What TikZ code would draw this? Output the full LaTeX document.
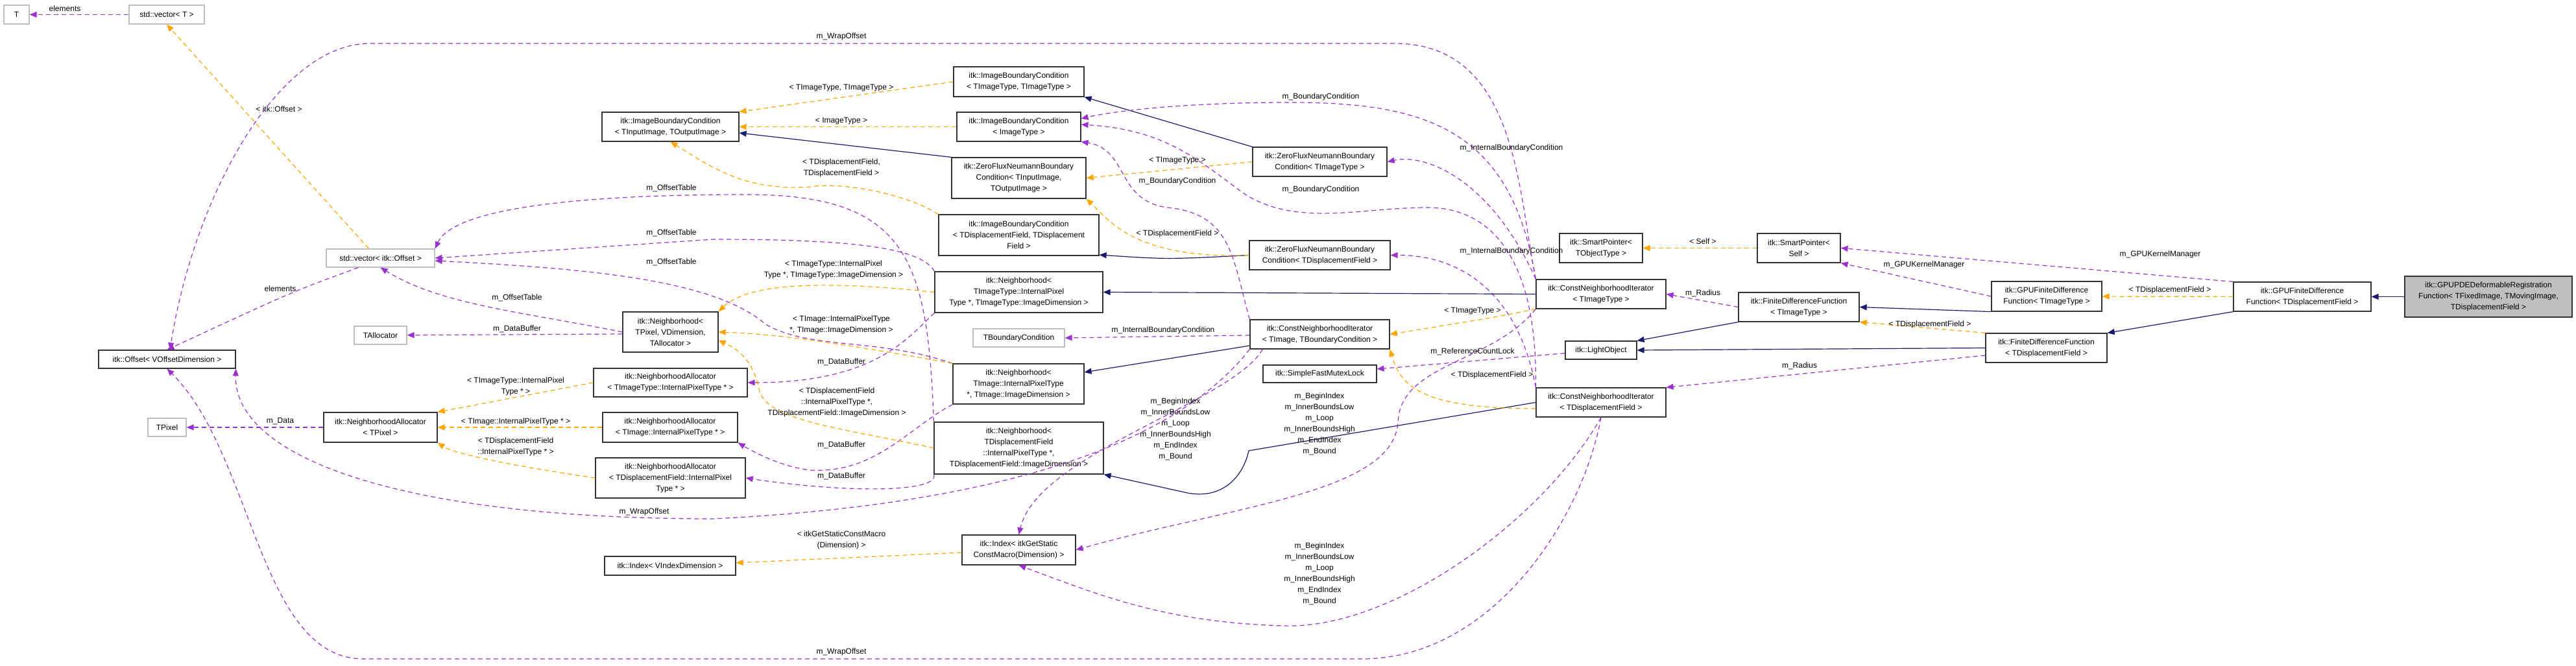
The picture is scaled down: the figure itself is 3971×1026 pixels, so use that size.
\documentclass[tikz,border=0pt]{standalone}
\usepackage{fontspec}
\setmainfont{Liberation Sans}
\usetikzlibrary{arrows.meta}
\definecolor{purp}{HTML}{9A32CD}
\definecolor{orng}{HTML}{FFA500}
\definecolor{navy}{HTML}{191970}
\begin{document}
\begin{tikzpicture}[x=1pt,y=-1pt,
  every node/.style={font=\fontsize{12}{17}\selectfont},
  box/.style={draw=black!80,line width=1.2pt,fill=white,align=center,inner sep=1pt},
  gbox/.style={box,draw=black!25},
  mbox/.style={box,fill=black!25},
  tip/.style={-{Triangle[length=11pt,width=9pt]}},
  pe/.style={tip,draw=purp,line width=1.2pt,dash pattern=on 7pt off 5pt},
  oe/.style={tip,draw=orng,line width=1.2pt,dash pattern=on 7pt off 5pt},
  ne/.style={tip,draw=navy,line width=1.2pt},
  lb/.style={align=center,inner sep=0pt}]
\useasboundingbox (0,0) rectangle (3971,1026);
% nodes
\node[gbox,minimum width=39pt,minimum height=29pt] (T) at (25.5,22.5) {T};
\node[gbox,minimum width=116pt,minimum height=29pt] (vecT) at (257,22.5) {std::vector< T >};
\node[gbox,minimum width=167pt,minimum height=28pt] (vecOff) at (586.5,398) {std::vector< itk::Offset >};
\node[box,minimum width=211pt,minimum height=28pt] (Offset) at (257.5,554) {itk::Offset< VOffsetDimension >};
\node[gbox,minimum width=81pt,minimum height=28pt] (TAlloc) at (586.5,517) {TAllocator};
\node[gbox,minimum width=59pt,minimum height=28pt] (TPixel) at (257.5,659) {TPixel};
\node[box,minimum width=175pt,minimum height=46pt] (NAP) at (586.5,659) {itk::NeighborhoodAllocator\\< TPixel >};
\node[box,minimum width=211pt,minimum height=45pt] (IBCin) at (1033.5,195.5) {itk::ImageBoundaryCondition\\< TInputImage, TOutputImage >};
\node[box,minimum width=147pt,minimum height=62pt] (NbP) at (1033.5,512) {itk::Neighborhood<\\ TPixel, VDimension,\\ TAllocator >};
\node[box,minimum width=237pt,minimum height=44pt] (NAIT) at (1033.5,590) {itk::NeighborhoodAllocator\\< TImageType::InternalPixelType * >};
\node[box,minimum width=208pt,minimum height=46pt] (NAI) at (1033,659) {itk::NeighborhoodAllocator\\< TImage::InternalPixelType * >};
\node[box,minimum width=231pt,minimum height=62pt] (NADF) at (1033.5,737) {itk::NeighborhoodAllocator\\< TDisplacementField::InternalPixel\\ Type * >};
\node[box,minimum width=202pt,minimum height=29pt] (IdxV) at (1033,872.5) {itk::Index< VIndexDimension >};
\node[box,minimum width=201pt,minimum height=46pt] (IBCTT) at (1570.5,126) {itk::ImageBoundaryCondition\\< TImageType, TImageType >};
\node[box,minimum width=191pt,minimum height=45pt] (IBCI) at (1570.5,195.5) {itk::ImageBoundaryCondition\\< ImageType >};
\node[box,minimum width=207pt,minimum height=63pt] (ZFNio) at (1570.5,274.5) {itk::ZeroFluxNeumannBoundary\\Condition< TInputImage,\\ TOutputImage >};
\node[box,minimum width=247pt,minimum height=63pt] (IBCDF) at (1570.5,362.5) {itk::ImageBoundaryCondition\\< TDisplacementField, TDisplacement\\Field >};
\node[box,minimum width=259pt,minimum height=63pt] (NbTIT) at (1570.5,450.5) {itk::Neighborhood<\\ TImageType::InternalPixel\\Type *, TImageType::ImageDimension >};
\node[gbox,minimum width=141pt,minimum height=28pt] (TBC) at (1570.5,521) {TBoundaryCondition};
\node[box,minimum width=202pt,minimum height=62pt] (NbTI) at (1570,592) {itk::Neighborhood<\\ TImage::InternalPixelType\\ *, TImage::ImageDimension >};
\node[box,minimum width=261pt,minimum height=80pt] (NbDF) at (1570.5,691) {itk::Neighborhood<\\ TDisplacementField\\::InternalPixelType *,\\ TDisplacementField::ImageDimension >};
\node[box,minimum width=175pt,minimum height=46pt] (IdxG) at (1570.5,848) {itk::Index< itkGetStatic\\ConstMacro(Dimension) >};
\node[box,minimum width=207pt,minimum height=45pt] (ZFNT) at (2034.5,249.5) {itk::ZeroFluxNeumannBoundary\\Condition< TImageType >};
\node[box,minimum width=217pt,minimum height=45pt] (ZFNDF) at (2034.5,393.5) {itk::ZeroFluxNeumannBoundary\\Condition< TDisplacementField >};
\node[box,minimum width=215pt,minimum height=45pt] (CNITB) at (2034.5,515.5) {itk::ConstNeighborhoodIterator\\< TImage, TBoundaryCondition >};
\node[box,minimum width=175pt,minimum height=27pt] (Mutex) at (2034.5,576.5) {itk::SimpleFastMutexLock};
\node[box,minimum width=200pt,minimum height=45pt] (CNIT) at (2468,453.5) {itk::ConstNeighborhoodIterator\\< TImageType >};
\node[box,minimum width=200pt,minimum height=45pt] (CNIDF) at (2468,620.5) {itk::ConstNeighborhoodIterator\\< TDisplacementField >};
\node[box,minimum width=110pt,minimum height=28pt] (LO) at (2468,540) {itk::LightObject};
\node[box,minimum width=128pt,minimum height=45pt] (SPT) at (2468,382.5) {itk::SmartPointer<\\ TObjectType >};
\node[box,minimum width=128pt,minimum height=45pt] (SPS) at (2773,382.5) {itk::SmartPointer<\\ Self >};
\node[box,minimum width=186pt,minimum height=45pt] (FDFT) at (2773,473.5) {itk::FiniteDifferenceFunction\\< TImageType >};
\node[box,minimum width=187pt,minimum height=45pt] (FDFDF) at (3154.5,536.5) {itk::FiniteDifferenceFunction\\< TDisplacementField >};
\node[box,minimum width=170pt,minimum height=46pt] (GT) at (3155,457) {itk::GPUFiniteDifference\\Function< TImageType >};
\node[box,minimum width=212pt,minimum height=45pt] (GDF) at (3549,457.5) {itk::GPUFiniteDifference\\Function< TDisplacementField >};
\node[mbox,minimum width=258pt,minimum height=63pt] (Main) at (3836,457.5) {itk::GPUPDEDeformableRegistration\\Function< TFixedImage, TMovingImage,\\ TDisplacementField >};
% edges
\draw[pe] (vecT) -- (T);
\node[lb] (l1) at (100,13) {elements};
\draw[oe] (vecOff.north) ++(-18,0) coordinate (c1) -- (vecT.south);
\node[lb] (l2) at (430,168) {< itk::Offset >};
\draw[pe] (vecOff.south west) ++(50,0) coordinate (c2) .. controls (450,450) .. (Offset.north);
\node[lb] (l3) at (432,445) {elements};
\draw[pe] (CNIT.north west) .. controls (2340,300) and (2340,67) .. (2150,67) -- (570,67) .. controls (430,67) and (300,300) .. (Offset.north -| 262,0);
\node[lb] (l4) at (1297,56) {m\_WrapOffset};
\draw[pe] (CNIDF.south) .. controls (2440,800) and (2300,1016) .. (2100,1016) -- (560,1016) .. controls (400,1016) and (390,700) .. (Offset.south);
\node[lb] (l5) at (1297,1005) {m\_WrapOffset};
\draw[pe] (CNITB.south west) .. controls (1800,700) and (1500,780) .. (1100,800) .. controls (600,800) and (360,700) .. (Offset.south east);
\node[lb] (l6) at (993,789) {m\_WrapOffset};
\draw[pe] (NbDF.north west) .. controls (1430,400) and (1400,300) .. (1150,300) .. controls (900,300) and (700,320) .. (vecOff.north east);
\node[lb] (l7) at (1035,290) {m\_OffsetTable};
\draw[pe] (NbTIT.north west) .. controls (1420,380) and (1300,369) .. (1100,369) -- (vecOff.east);
\node[lb] (l8) at (1035,359) {m\_OffsetTable};
\draw[pe] (NbTI.north west) .. controls (1350,520) and (1250,540) .. (1180,500) .. controls (1100,430) and (900,414) .. (vecOff.east |- 0,402);
\node[lb] (l9) at (1035,404) {m\_OffsetTable};
\draw[pe] (NbP.west) .. controls (800,480) and (680,470) .. (vecOff.south);
\node[lb] (l10) at (797,459) {m\_OffsetTable};
\draw[pe] (NbP.west |- 0,515) -- (TAlloc);
\node[lb] (l11) at (797,507) {m\_DataBuffer};
\draw[pe] (NbTIT.south west) .. controls (1400,520) and (1350,590) .. (NAIT.east);
\node[lb] (l12) at (1297,558) {m\_DataBuffer};
\draw[pe] (NbTI.south west) .. controls (1400,660) and (1350,730) .. (1250,725) .. controls (1200,720) and (1150,690) .. (NAI.south east);
\node[lb] (l13) at (1297,686) {m\_DataBuffer};
\draw[pe] (NbDF.south west) .. controls (1450,760) and (1300,760) .. (NADF.east);
\node[lb] (l14) at (1297,734) {m\_DataBuffer};
\draw[pe] (NAP) -- (TPixel);
\node[lb] (l15) at (432,650) {m\_Data};
\draw[oe] (NAIT.west) -- (NAP.north east);
\node[lb] (l16) at (795,596) {< TImageType::InternalPixel\\Type * >};
\draw[oe] (NAI) -- (NAP);
\node[lb] (l17) at (795,650) {< TImage::InternalPixelType * >};
\draw[oe] (NADF.west) .. controls (800,720) and (700,700) .. (NAP.south east);
\node[lb] (l18) at (795,689) {< TDisplacementField\\::InternalPixelType * >};
\draw[oe] (NbTIT.west) .. controls (1250,430) and (1150,440) .. (NbP.north east);
\node[lb] (l19) at (1285,416) {< TImageType::InternalPixel\\Type *, TImageType::ImageDimension >};
\draw[oe] (NbTI.north west) .. controls (1300,530) and (1200,515) .. (NbP.east);
\node[lb] (l20) at (1297,501) {< TImage::InternalPixelType\\*, TImage::ImageDimension >};
\draw[oe] (NbDF.west) .. controls (1300,660) and (1180,650) .. (1170,600) .. controls (1160,550) and (1130,535) .. (NbP.east |- 0,525);
\node[lb] (l21) at (1290,620) {< TDisplacementField\\::InternalPixelType *,\\TDisplacementField::ImageDimension >};
\draw[oe] (IBCTT.west) -- (IBCin.north east);
\node[lb] (l22) at (1297,136) {< TImageType, TImageType >};
\draw[oe] (IBCI) -- (IBCin);
\node[lb] (l23) at (1297,187) {< ImageType >};
\draw[ne] (ZFNio.north west) -- (IBCin.east |- 0,205);
\draw[oe] (IBCDF.north west) .. controls (1400,300) and (1300,280) .. (1250,288) .. controls (1150,295) and (1100,260) .. (IBCin.south);
\node[lb] (l24) at (1297,259) {< TDisplacementField,\\TDisplacementField >};
\draw[ne] (ZFNT.north west) -- (IBCTT.south east);
\draw[oe] (ZFNT.west) -- (ZFNio.east);
\node[lb] (l25) at (1815,248) {< TImageType >};
\draw[ne] (ZFNDF.west) .. controls (1800,400) .. (IBCDF.east |- 0,393);
\draw[oe] (ZFNDF.west) .. controls (1750,400) and (1710,340) .. (ZFNio.south east);
\node[lb] (l26) at (1815,360) {< TDisplacementField >};
\draw[pe] (CNIT.north west) .. controls (2330,200) and (2200,158) .. (1990,158) .. controls (1800,158) and (1700,175) .. (IBCI.east |- 0,183);
\node[lb] (l27) at (2036,149) {m\_BoundaryCondition};
\draw[pe] (CNITB.north west) .. controls (1900,400) and (1900,330) .. (1800,320) .. controls (1720,310) and (1740,230) .. (IBCI.south east);
\node[lb] (l28) at (1815,279) {m\_BoundaryCondition};
\draw[pe] (CNIDF.north west) .. controls (2370,400) and (2300,320) .. (2200,320) .. controls (2100,320) and (2000,350) .. (1920,300) .. controls (1850,250) and (1800,200) .. (IBCI.east |- 0,192);
\node[lb] (l29) at (2036,292) {m\_BoundaryCondition};
\draw[pe] (CNIT.north west) .. controls (2300,280) and (2200,236) .. (ZFNT.east);
\node[lb] (l30) at (2330,228) {m\_InternalBoundaryCondition};
\draw[pe] (CNIDF.north west) .. controls (2340,450) and (2250,393) .. (ZFNDF.east);
\node[lb] (l31) at (2330,387) {m\_InternalBoundaryCondition};
\draw[pe] (CNITB.west |- 0,517) -- (TBC.east);
\node[lb] (l32) at (1793,509) {m\_InternalBoundaryCondition};
\draw[ne] (CNITB.west |- 0,533) -- (NbTI.east |- 0,574);
\draw[ne] (CNIT.west) -- (NbTIT.east);
\draw[ne] (CNIDF.west) -- (1925,695) .. controls (1915,740) and (1880,770) .. (1830,760) -- (NbDF.south east);
\draw[oe] (CNIT.south west) .. controls (2300,490) .. (CNITB.east);
\node[lb] (l33) at (2270,480) {< TImageType >};
\draw[oe] (CNIDF.west |- 0,630) .. controls (2200,630) and (2160,600) .. (CNITB.south east);
\node[lb] (l34) at (2300,578) {< TDisplacementField >};
\draw[pe] (CNITB.south west) ++(20,0) coordinate (c3) .. controls (1900,620) and (1600,700) .. (IdxG.north);
\node[lb] (l35) at (1812,662) {m\_BeginIndex\\m\_InnerBoundsLow\\m\_Loop\\m\_InnerBoundsHigh\\m\_EndIndex\\m\_Bound};
\draw[pe] (CNIT.south west) .. controls (2300,560) and (2160,560) .. (2155,650) .. controls (2150,760) and (1900,780) .. (IdxG.east);
\node[lb] (l36) at (2034,654) {m\_BeginIndex\\m\_InnerBoundsLow\\m\_Loop\\m\_InnerBoundsHigh\\m\_EndIndex\\m\_Bound};
\draw[pe] (CNIDF.south) .. controls (2380,800) and (2150,970) .. (1980,965) .. controls (1800,960) and (1700,920) .. (IdxG.south);
\node[lb] (l37) at (2034,885) {m\_BeginIndex\\m\_InnerBoundsLow\\m\_Loop\\m\_InnerBoundsHigh\\m\_EndIndex\\m\_Bound};
\draw[oe] (IdxG) -- (IdxV);
\node[lb] (l38) at (1297,833) {< itkGetStaticConstMacro\\(Dimension) >};
\draw[pe] (LO) -- (Mutex);
\node[lb] (l39) at (2270,542) {m\_ReferenceCountLock};
\draw[ne] (FDFT.south west) -- (LO.north east);
\draw[ne] (FDFDF.west) -- (LO.east);
\draw[oe] (SPS) -- (SPT);
\node[lb] (l40) at (2625,372) {< Self >};
\draw[pe] (FDFT.west) -- (CNIT.east);
\node[lb] (l41) at (2625,452) {m\_Radius};
\draw[pe] (FDFDF.west |- 0,548) -- (CNIDF.north east);
\node[lb] (l42) at (2774,564) {m\_Radius};
\draw[pe] (GT.west) -- (SPS.south east);
\node[lb] (l43) at (2966,408) {m\_GPUKernelManager};
\draw[pe] (GDF.north west) -- (SPS.east);
\node[lb] (l44) at (3330,392) {m\_GPUKernelManager};
\draw[ne] (GT.south west) -- (FDFT.east);
\draw[oe] (GDF) -- (GT);
\node[lb] (l45) at (3345,447) {< TDisplacementField >};
\draw[ne] (GDF.south west) -- (FDFDF.north east);
\draw[oe] (FDFDF.north west) -- (FDFT.south east);
\node[lb] (l46) at (2975,500) {< TDisplacementField >};
\draw[ne] (Main) -- (GDF);
\end{tikzpicture}
\end{document}
